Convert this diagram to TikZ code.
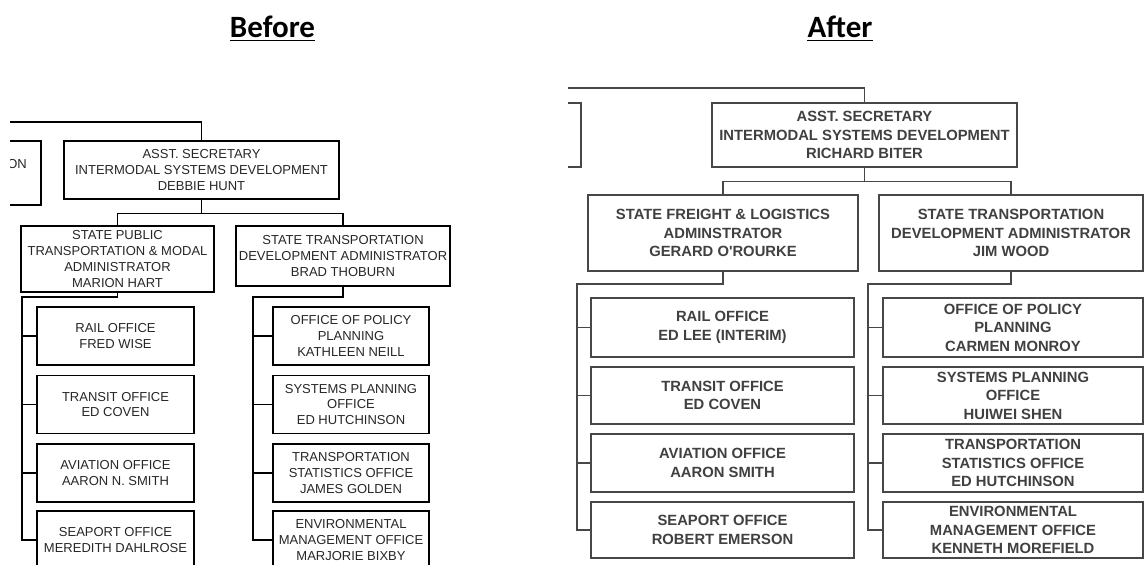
\documentclass[tikz,border=0pt]{standalone}
\usepackage{fontspec}
\setmainfont{Liberation Sans}
\newfontfamily\titlefont{Carlito}
\usetikzlibrary{calc}
\begin{document}
\begin{tikzpicture}[x=1pt,y=-1pt,
  lbox/.style={draw=black, line width=1.2pt, inner sep=0pt, align=center,
    font=\fontsize{13}{15.8}\selectfont, text=black!85},
  rbox/.style={draw=black!72, line width=1.1pt, inner sep=0pt, align=center,
    font=\bfseries\fontsize{14.8}{18.5}\selectfont, text=black!75},
  lline/.style={line width=1.2pt, draw=black},
  rline/.style={line width=1.1pt, draw=black!72},
  title/.style={font=\titlefont\bfseries\fontsize{31}{36}\selectfont, inner sep=0pt, anchor=base}
]
\useasboundingbox (0,0) rectangle (1144,565);

% ---------- titles ----------
\node[title] (tb) at (272.5,37) {Before};
\node[title] (ta) at (840,37) {After};
\draw[line width=1.8pt] ($(tb.base west)+(0,3.5)$) -- ($(tb.base east)+(0,3.5)$);
\draw[line width=1.8pt] ($(ta.base west)+(0,3.5)$) -- ($(ta.base east)+(0,3.5)$);

% ---------- BEFORE ----------
\begin{scope}
\clip (10,80) rectangle (470,565);
\node[lbox, minimum width=80, minimum height=64] (lon) at (1,173) {};
\node[font=\fontsize{13}{15.8}\selectfont, text=black!85, inner sep=0pt, anchor=east] (lontxt) at (27,164) {ON};
\node[lbox, minimum width=275, minimum height=58] (lasst) at (201.5,170)
  {ASST. SECRETARY\\INTERMODAL SYSTEMS DEVELOPMENT\\DEBBIE HUNT};
\coordinate (ltop) at (10,122);
\draw[lline] (ltop) -| (lasst.north);

\node[lbox, minimum width=193, minimum height=66] (lpub) at (117.5,259)
  {STATE PUBLIC\\TRANSPORTATION \& MODAL\\ADMINISTRATOR\\MARION HART};
\node[lbox, minimum width=214, minimum height=60] (ltd) at (343,256)
  {STATE TRANSPORTATION\\DEVELOPMENT ADMINISTRATOR\\BRAD THOBURN};
\coordinate (lj) at ($(lasst.south)+(0,14)$);
\draw[lline] (lasst.south) -- (lj);
\draw[lline] (lpub.north) |- (lj) -| (ltd.north);

\foreach \n/\y/\t in {1/336/{RAIL OFFICE\\FRED WISE},
                      2/404.5/{TRANSIT OFFICE\\ED COVEN},
                      3/473/{AVIATION OFFICE\\AARON N. SMITH},
                      4/540/{SEAPORT OFFICE\\MEREDITH DAHLROSE}}
  \node[lbox, minimum width=157, minimum height=58] (lc\n) at (115.5,\y) {\t};
\foreach \n/\y/\t in {1/336/{OFFICE OF POLICY\\PLANNING\\KATHLEEN NEILL},
                      2/404.5/{SYSTEMS PLANNING\\OFFICE\\ED HUTCHINSON},
                      3/473/{TRANSPORTATION\\STATISTICS OFFICE\\JAMES GOLDEN},
                      4/540/{ENVIRONMENTAL\\MANAGEMENT OFFICE\\MARJORIE BIXBY}}
  \node[lbox, minimum width=156, minimum height=58] (ld\n) at (351,\y) {\t};

\coordinate (lbusa) at (22,297);
\coordinate (lbusb) at (253,297);
\draw[lline] (lpub.south) |- (lbusa) |- (lc4.west);
\draw[lline] (ltd.south) |- (lbusb) |- (ld4.west);
\foreach \n in {1,2,3}{
  \draw[lline] (lbusa |- lc\n.west) -- (lc\n.west);
  \draw[lline] (lbusb |- ld\n.west) -- (ld\n.west);
}
\end{scope}

% ---------- AFTER ----------
\begin{scope}
\clip (568,80) rectangle (1144,565);
\node[rbox, minimum width=41, minimum height=64] (rpart) at (560.5,135) {};
\node[rbox, minimum width=305, minimum height=64] (rasst) at (864.5,135)
  {ASST. SECRETARY\\INTERMODAL SYSTEMS DEVELOPMENT\\RICHARD BITER};
\coordinate (rtop) at (568,88);
\draw[rline] (rtop) -| (rasst.north);

\node[rbox, minimum width=270, minimum height=76] (rfr) at (723,233)
  {STATE FREIGHT \& LOGISTICS\\ADMINSTRATOR\\GERARD O\textquotesingle ROURKE};
\node[rbox, minimum width=264, minimum height=76] (rtd) at (1011,233)
  {STATE TRANSPORTATION\\DEVELOPMENT ADMINISTRATOR\\JIM WOOD};
\coordinate (rj) at ($(rasst.south)+(0,14)$);
\draw[rline] (rasst.south) -- (rj);
\draw[rline] (rfr.north) |- (rj) -| (rtd.north);

\foreach \n/\y/\h/\t in {1/327.5/59/{RAIL OFFICE\\ED LEE (INTERIM)},
                      2/395.5/57/{TRANSIT OFFICE\\ED COVEN},
                      3/463/58/{AVIATION OFFICE\\AARON SMITH},
                      4/530/56/{SEAPORT OFFICE\\ROBERT EMERSON}}
  \node[rbox, minimum width=263, minimum height=\h] (rc\n) at (722.5,\y) {\t};
\foreach \n/\y/\h/\t in {1/327.5/59/{OFFICE OF POLICY\\PLANNING\\CARMEN MONROY},
                      2/395.5/57/{SYSTEMS PLANNING\\OFFICE\\HUIWEI SHEN},
                      3/463/58/{TRANSPORTATION\\STATISTICS OFFICE\\ED HUTCHINSON},
                      4/530/56/{ENVIRONMENTAL\\MANAGEMENT OFFICE\\KENNETH MOREFIELD}}
  \node[rbox, minimum width=260, minimum height=\h] (rd\n) at (1013,\y) {\t};

\coordinate (rbusa) at (577,284);
\coordinate (rbusb) at (868,284);
\draw[rline] (rfr.south) |- (rbusa) |- (rc4.west);
\draw[rline] (rtd.south) |- (rbusb) |- (rd4.west);
\foreach \n in {1,2,3}{
  \draw[rline] (rbusa |- rc\n.west) -- (rc\n.west);
  \draw[rline] (rbusb |- rd\n.west) -- (rd\n.west);
}
\end{scope}
\end{tikzpicture}
\end{document}
